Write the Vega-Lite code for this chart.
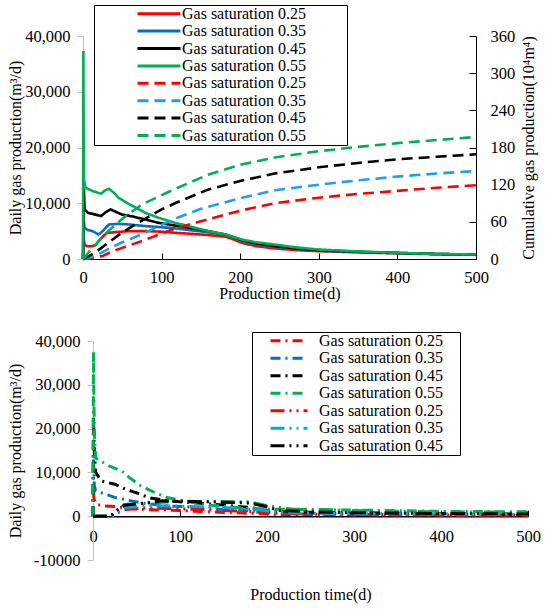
{
  "$schema": "https://vega.github.io/schema/vega-lite/v6.json",
  "padding": {"left": 6, "top": 4, "right": 5, "bottom": 2},
  "config": {
    "view": {"stroke": null},
    "font": "Liberation Serif",
    "axis": {"labelFont": "Liberation Serif", "titleFont": "Liberation Serif", "labelFontSize": 16.5, "titleFontSize": 16, "titleFontWeight": "normal", "labelColor": "#000", "titleColor": "#000", "grid": false, "labelFlush": false},
    "legend": {"labelFont": "Liberation Serif", "labelFontSize": 16, "labelColor": "#000", "labelLimit": 400}
  },
  "datasets": {
    "daily": [
      {"s":"A0.25","t":0,"v":0},{"s":"A0.25","t":1,"v":3500},{"s":"A0.25","t":2,"v":2600},{"s":"A0.25","t":5,"v":2300},{"s":"A0.25","t":12,"v":2300},{"s":"A0.25","t":16,"v":2500},{"s":"A0.25","t":20,"v":3200},{"s":"A0.25","t":25,"v":4000},{"s":"A0.25","t":31,"v":4700},{"s":"A0.25","t":40,"v":4800},{"s":"A0.25","t":58,"v":5000},{"s":"A0.25","t":80,"v":5000},{"s":"A0.25","t":100,"v":4900},{"s":"A0.25","t":117,"v":4700},{"s":"A0.25","t":140,"v":4500},{"s":"A0.25","t":159,"v":4300},{"s":"A0.25","t":181,"v":4000},{"s":"A0.25","t":190,"v":3600},{"s":"A0.25","t":202,"v":2900},{"s":"A0.25","t":220,"v":2300},{"s":"A0.25","t":244,"v":1900},{"s":"A0.25","t":270,"v":1600},{"s":"A0.25","t":300,"v":1400},{"s":"A0.25","t":350,"v":1200},{"s":"A0.25","t":400,"v":1000},{"s":"A0.25","t":450,"v":850},{"s":"A0.25","t":500,"v":750},
      {"s":"B0.35","t":0,"v":0},{"s":"B0.35","t":1,"v":6800},{"s":"B0.35","t":2,"v":5600},{"s":"B0.35","t":6,"v":5200},{"s":"B0.35","t":12,"v":5000},{"s":"B0.35","t":20,"v":4400},{"s":"B0.35","t":25,"v":5000},{"s":"B0.35","t":33,"v":6200},{"s":"B0.35","t":45,"v":6300},{"s":"B0.35","t":58,"v":6200},{"s":"B0.35","t":80,"v":5900},{"s":"B0.35","t":100,"v":5700},{"s":"B0.35","t":117,"v":5500},{"s":"B0.35","t":140,"v":5100},{"s":"B0.35","t":159,"v":4800},{"s":"B0.35","t":181,"v":4300},{"s":"B0.35","t":190,"v":3900},{"s":"B0.35","t":202,"v":3200},{"s":"B0.35","t":220,"v":2600},{"s":"B0.35","t":244,"v":2150},{"s":"B0.35","t":270,"v":1800},{"s":"B0.35","t":300,"v":1500},{"s":"B0.35","t":350,"v":1250},{"s":"B0.35","t":400,"v":1050},{"s":"B0.35","t":450,"v":900},{"s":"B0.35","t":500,"v":780},
      {"s":"C0.45","t":0,"v":0},{"s":"C0.45","t":1,"v":13100},{"s":"C0.45","t":2,"v":8900},{"s":"C0.45","t":6,"v":8300},{"s":"C0.45","t":12,"v":8100},{"s":"C0.45","t":23,"v":7700},{"s":"C0.45","t":29,"v":8400},{"s":"C0.45","t":35,"v":8900},{"s":"C0.45","t":49,"v":8000},{"s":"C0.45","t":64,"v":7600},{"s":"C0.45","t":79,"v":7100},{"s":"C0.45","t":96,"v":6500},{"s":"C0.45","t":117,"v":6000},{"s":"C0.45","t":140,"v":5500},{"s":"C0.45","t":159,"v":5000},{"s":"C0.45","t":181,"v":4400},{"s":"C0.45","t":190,"v":4000},{"s":"C0.45","t":202,"v":3400},{"s":"C0.45","t":220,"v":2800},{"s":"C0.45","t":244,"v":2300},{"s":"C0.45","t":270,"v":1900},{"s":"C0.45","t":300,"v":1600},{"s":"C0.45","t":350,"v":1300},{"s":"C0.45","t":400,"v":1100},{"s":"C0.45","t":450,"v":900},{"s":"C0.45","t":500,"v":800},
      {"s":"D0.55","t":0,"v":0},{"s":"D0.55","t":0.5,"v":37300},{"s":"D0.55","t":1,"v":14600},{"s":"D0.55","t":3,"v":12800},{"s":"D0.55","t":12,"v":12200},{"s":"D0.55","t":23,"v":11700},{"s":"D0.55","t":28,"v":12300},{"s":"D0.55","t":33,"v":12600},{"s":"D0.55","t":40,"v":11800},{"s":"D0.55","t":45,"v":11000},{"s":"D0.55","t":58,"v":9900},{"s":"D0.55","t":79,"v":8300},{"s":"D0.55","t":96,"v":7400},{"s":"D0.55","t":117,"v":6500},{"s":"D0.55","t":140,"v":5700},{"s":"D0.55","t":159,"v":5000},{"s":"D0.55","t":181,"v":4400},{"s":"D0.55","t":190,"v":4000},{"s":"D0.55","t":202,"v":3500},{"s":"D0.55","t":220,"v":3000},{"s":"D0.55","t":244,"v":2600},{"s":"D0.55","t":270,"v":2100},{"s":"D0.55","t":300,"v":1700},{"s":"D0.55","t":350,"v":1350},{"s":"D0.55","t":400,"v":1100},{"s":"D0.55","t":450,"v":900},{"s":"D0.55","t":500,"v":800}
    ],
    "cum": [
      {"s":"E0.25","t":0,"v":0},{"s":"E0.25","t":5,"v":0.5},{"s":"E0.25","t":15,"v":2},{"s":"E0.25","t":25,"v":5},{"s":"E0.25","t":35,"v":11},{"s":"E0.25","t":50,"v":18},{"s":"E0.25","t":75,"v":29},{"s":"E0.25","t":100,"v":41},{"s":"E0.25","t":117,"v":49},{"s":"E0.25","t":150,"v":61},{"s":"E0.25","t":200,"v":78},{"s":"E0.25","t":244,"v":90},{"s":"E0.25","t":300,"v":99},{"s":"E0.25","t":350,"v":105},{"s":"E0.25","t":400,"v":110},{"s":"E0.25","t":450,"v":115},{"s":"E0.25","t":500,"v":119},
      {"s":"F0.35","t":0,"v":0},{"s":"F0.35","t":5,"v":1},{"s":"F0.35","t":10,"v":3},{"s":"F0.35","t":20,"v":8},{"s":"F0.35","t":32,"v":16},{"s":"F0.35","t":50,"v":27},{"s":"F0.35","t":75,"v":40},{"s":"F0.35","t":100,"v":55},{"s":"F0.35","t":117,"v":65},{"s":"F0.35","t":150,"v":81},{"s":"F0.35","t":200,"v":98},{"s":"F0.35","t":244,"v":111},{"s":"F0.35","t":300,"v":120},{"s":"F0.35","t":350,"v":127},{"s":"F0.35","t":400,"v":133},{"s":"F0.35","t":450,"v":138},{"s":"F0.35","t":500,"v":142},
      {"s":"G0.45","t":0,"v":0},{"s":"G0.45","t":5,"v":3},{"s":"G0.45","t":15,"v":10},{"s":"G0.45","t":32,"v":26},{"s":"G0.45","t":50,"v":43},{"s":"G0.45","t":75,"v":62},{"s":"G0.45","t":100,"v":80},{"s":"G0.45","t":117,"v":90},{"s":"G0.45","t":159,"v":112},{"s":"G0.45","t":200,"v":126},{"s":"G0.45","t":244,"v":138},{"s":"G0.45","t":300,"v":148},{"s":"G0.45","t":350,"v":155},{"s":"G0.45","t":400,"v":161},{"s":"G0.45","t":450,"v":165},{"s":"G0.45","t":500,"v":169},
      {"s":"H0.55","t":0,"v":0},{"s":"H0.55","t":3,"v":4},{"s":"H0.55","t":8,"v":12},{"s":"H0.55","t":15,"v":22},{"s":"H0.55","t":32,"v":45},{"s":"H0.55","t":53,"v":68},{"s":"H0.55","t":75,"v":88},{"s":"H0.55","t":100,"v":103},{"s":"H0.55","t":117,"v":113},{"s":"H0.55","t":159,"v":136},{"s":"H0.55","t":200,"v":152},{"s":"H0.55","t":244,"v":164},{"s":"H0.55","t":300,"v":174},{"s":"H0.55","t":350,"v":181},{"s":"H0.55","t":400,"v":187},{"s":"H0.55","t":450,"v":192},{"s":"H0.55","t":500,"v":197}
    ],
    "bot": [
      {"s":"A0.25","t":0,"v":0},{"s":"A0.25","t":0.5,"v":7800},{"s":"A0.25","t":1,"v":4200},{"s":"A0.25","t":3,"v":2800},{"s":"A0.25","t":10,"v":2400},{"s":"A0.25","t":25,"v":2200},{"s":"A0.25","t":40,"v":1800},{"s":"A0.25","t":60,"v":1500},{"s":"A0.25","t":87,"v":1400},{"s":"A0.25","t":110,"v":1200},{"s":"A0.25","t":132,"v":1000},{"s":"A0.25","t":160,"v":800},{"s":"A0.25","t":194,"v":600},{"s":"A0.25","t":210,"v":400},{"s":"A0.25","t":250,"v":350},{"s":"A0.25","t":300,"v":300},{"s":"A0.25","t":400,"v":250},{"s":"A0.25","t":500,"v":200},
      {"s":"B0.35","t":0,"v":0},{"s":"B0.35","t":0.5,"v":14000},{"s":"B0.35","t":1.5,"v":7000},{"s":"B0.35","t":3,"v":5800},{"s":"B0.35","t":10,"v":5300},{"s":"B0.35","t":25,"v":4300},{"s":"B0.35","t":44,"v":3500},{"s":"B0.35","t":60,"v":2900},{"s":"B0.35","t":90,"v":2300},{"s":"B0.35","t":105,"v":2200},{"s":"B0.35","t":130,"v":1800},{"s":"B0.35","t":160,"v":1400},{"s":"B0.35","t":190,"v":1100},{"s":"B0.35","t":210,"v":800},{"s":"B0.35","t":250,"v":700},{"s":"B0.35","t":300,"v":600},{"s":"B0.35","t":400,"v":500},{"s":"B0.35","t":500,"v":400},
      {"s":"C0.45","t":0,"v":0},{"s":"C0.45","t":0.5,"v":23000},{"s":"C0.45","t":1.5,"v":15000},{"s":"C0.45","t":3,"v":10000},{"s":"C0.45","t":10,"v":8000},{"s":"C0.45","t":25,"v":7300},{"s":"C0.45","t":38,"v":6100},{"s":"C0.45","t":52,"v":5200},{"s":"C0.45","t":65,"v":4200},{"s":"C0.45","t":80,"v":3700},{"s":"C0.45","t":100,"v":3300},{"s":"C0.45","t":140,"v":2700},{"s":"C0.45","t":180,"v":2000},{"s":"C0.45","t":200,"v":1300},{"s":"C0.45","t":250,"v":900},{"s":"C0.45","t":300,"v":800},{"s":"C0.45","t":400,"v":600},{"s":"C0.45","t":500,"v":500},
      {"s":"D0.55","t":0,"v":0},{"s":"D0.55","t":0.5,"v":37600},{"s":"D0.55","t":1.5,"v":20000},{"s":"D0.55","t":3,"v":13300},{"s":"D0.55","t":17,"v":11600},{"s":"D0.55","t":33,"v":10300},{"s":"D0.55","t":42,"v":8800},{"s":"D0.55","t":55,"v":6900},{"s":"D0.55","t":71,"v":5400},{"s":"D0.55","t":86,"v":4200},{"s":"D0.55","t":105,"v":3500},{"s":"D0.55","t":129,"v":2600},{"s":"D0.55","t":178,"v":1800},{"s":"D0.55","t":209,"v":1600},{"s":"D0.55","t":250,"v":1500},{"s":"D0.55","t":300,"v":1400},{"s":"D0.55","t":400,"v":1100},{"s":"D0.55","t":500,"v":1000},
      {"s":"E0.25","t":0,"v":0},{"s":"E0.25","t":22,"v":0},{"s":"E0.25","t":30,"v":900},{"s":"E0.25","t":38,"v":1500},{"s":"E0.25","t":60,"v":1900},{"s":"E0.25","t":100,"v":1700},{"s":"E0.25","t":140,"v":1400},{"s":"E0.25","t":180,"v":1100},{"s":"E0.25","t":200,"v":800},{"s":"E0.25","t":230,"v":500},{"s":"E0.25","t":300,"v":400},{"s":"E0.25","t":400,"v":300},{"s":"E0.25","t":500,"v":250},
      {"s":"F0.35","t":0,"v":0},{"s":"F0.35","t":22,"v":0},{"s":"F0.35","t":30,"v":1200},{"s":"F0.35","t":38,"v":2000},{"s":"F0.35","t":60,"v":2400},{"s":"F0.35","t":100,"v":2300},{"s":"F0.35","t":150,"v":2000},{"s":"F0.35","t":190,"v":1500},{"s":"F0.35","t":210,"v":900},{"s":"F0.35","t":250,"v":700},{"s":"F0.35","t":300,"v":600},{"s":"F0.35","t":400,"v":500},{"s":"F0.35","t":500,"v":400},
      {"s":"G0.45","t":0,"v":0},{"s":"G0.45","t":20,"v":0},{"s":"G0.45","t":28,"v":1500},{"s":"G0.45","t":36,"v":2500},{"s":"G0.45","t":60,"v":3000},{"s":"G0.45","t":80,"v":3500},{"s":"G0.45","t":130,"v":3300},{"s":"G0.45","t":180,"v":3000},{"s":"G0.45","t":195,"v":2400},{"s":"G0.45","t":215,"v":1300},{"s":"G0.45","t":250,"v":1000},{"s":"G0.45","t":300,"v":800},{"s":"G0.45","t":400,"v":600},{"s":"G0.45","t":500,"v":500}
    ],
    "hid": [
      {"s":"H0.55","t":0,"v":0},{"s":"H0.55","t":20,"v":0},{"s":"H0.55","t":30,"v":1500},{"s":"H0.55","t":36,"v":2700},{"s":"H0.55","t":60,"v":3000},{"s":"H0.55","t":100,"v":3400},{"s":"H0.55","t":180,"v":3300},{"s":"H0.55","t":200,"v":2400},{"s":"H0.55","t":230,"v":1600},{"s":"H0.55","t":270,"v":1500},{"s":"H0.55","t":300,"v":1300},{"s":"H0.55","t":400,"v":1000},{"s":"H0.55","t":500,"v":900}
    ],
    "none": []
  },
  "spacing": 29,
  "vconcat": [
    {
      "spacing": 0,
      "hconcat": [
        {"width": 1, "height": 1, "data": {"name": "none"}, "mark": "point"},
        {
          "width": 393,
          "height": 223,
          "layer": [
            {
              "data": {"name": "daily"},
              "mark": {"type": "line", "strokeWidth": 2.6},
              "encoding": {
                "x": {"field": "t", "type": "quantitative", "scale": {"domain": [0, 500], "nice": false},
                  "axis": {"values": [0, 100, 200, 300, 400, 500], "title": "Production time(d)", "domainColor": "#000", "tickColor": "#000", "tickSize": -6, "labelPadding": 16, "titlePadding": 0}},
                "y": {"field": "v", "type": "quantitative", "scale": {"domain": [0, 40000], "nice": false},
                  "axis": {"values": [0, 10000, 20000, 30000, 40000], "labelExpr": "format(datum.value, ',')", "title": "Daily gas production(m³/d)", "domainColor": "#BFBFBF", "tickColor": "#BFBFBF", "tickSize": 6, "labelPadding": 7, "titlePadding": 1}},
                "color": {"field": "s", "type": "nominal",
                  "scale": {"domain": ["A0.25","B0.35","C0.45","D0.55","E0.25","F0.35","G0.45","H0.55"], "range": ["#FF0000","#0070C0","#000000","#00B050","#FF0000","#1E9FE8","#000000","#00B050"]},
                  "legend": {"title": null, "orient": "none", "legendX": 88, "legendY": -31, "symbolType": "stroke", "symbolSize": 1849, "symbolStrokeWidth": 3, "clipHeight": 15.4, "rowPadding": 0.4, "padding": 1, "symbolOffset": 41, "labelOffset": 0, "fillColor": "#ffffff", "strokeColor": "#000000", "labelExpr": "'Gas saturation ' + substring(datum.label, 1) + '\u00a0\u00a0\u00a0\u00a0\u00a0\u00a0\u00a0\u00a0\u00a0\u00a0\u200b'"}},
                "strokeDash": {"field": "s", "type": "nominal",
                  "scale": {"domain": ["A0.25","B0.35","C0.45","D0.55","E0.25","F0.35","G0.45","H0.55"], "range": [[1,0],[1,0],[1,0],[1,0],[11,6],[11,6],[11,6],[11,6]]},
                  "legend": {"title": null, "orient": "none", "legendX": 88, "legendY": -31, "symbolType": "stroke", "symbolSize": 1849, "symbolStrokeWidth": 3, "clipHeight": 15.4, "rowPadding": 0.4, "padding": 1, "symbolOffset": 41, "labelOffset": 0, "fillColor": "#ffffff", "strokeColor": "#000000", "labelExpr": "'Gas saturation ' + substring(datum.label, 1) + '\u00a0\u00a0\u00a0\u00a0\u00a0\u00a0\u00a0\u00a0\u00a0\u00a0\u200b'"}}
              }
            },
            {
              "data": {"name": "cum"},
              "mark": {"type": "line", "strokeWidth": 2.6},
              "encoding": {
                "x": {"field": "t", "type": "quantitative"},
                "y": {"field": "v", "type": "quantitative", "scale": {"domain": [0, 360], "nice": false},
                  "axis": {"orient": "right", "values": [0, 60, 120, 180, 240, 300, 360], "title": "Cumulative gas production(10⁴m⁴)", "titleAngle": 270, "titleBaseline": "top", "domainColor": "#000", "tickColor": "#000", "tickSize": -7, "labelPadding": 21, "titlePadding": 6}},
                "color": {"field": "s", "type": "nominal"},
                "strokeDash": {"field": "s", "type": "nominal"}
              }
            }
          ],
          "resolve": {"scale": {"y": "independent"}, "axis": {"y": "independent"}}
        }
      ]
    },
    {
      "spacing": 0,
      "hconcat": [
        {"width": 1, "height": 1, "data": {"name": "none"}, "mark": "point"},
        {
          "width": 435,
          "height": 219,
          "layer": [
            {
              "data": {"name": "hid"},
              "mark": {"type": "line", "strokeWidth": 3, "color": "#00B050", "strokeDash": [14,5,2,5,2,5]},
              "encoding": {
                "x": {"field": "t", "type": "quantitative", "scale": {"domain": [0, 500], "nice": false},
                  "axis": {"values": [0, 100, 200, 300, 400, 500], "title": "Production time(d)", "offset": -43.8, "domainColor": "#000", "domainWidth": 1.5, "tickColor": "#000", "tickSize": -6, "labelPadding": 18, "titlePadding": 42}},
                "y": {"field": "v", "type": "quantitative", "scale": {"domain": [-10000, 40000], "nice": false},
                  "axis": {"values": [-10000, 0, 10000, 20000, 30000, 40000], "labelExpr": "datum.value < 0 ? '-10000' : format(datum.value, ',')", "title": "Daily gas production(m³/d)", "domainColor": "#BFBFBF", "tickColor": "#BFBFBF", "tickSize": 6, "labelPadding": 7, "titlePadding": 10}}
              }
            },
            {
              "data": {"name": "bot"},
              "mark": {"type": "line", "strokeWidth": 3},
              "encoding": {
                "x": {"field": "t", "type": "quantitative"},
                "y": {"field": "v", "type": "quantitative"},
                "color": {"field": "s", "type": "nominal",
                  "scale": {"domain": ["A0.25","B0.35","C0.45","D0.55","E0.25","F0.35","G0.45"], "range": ["#FF0000","#0070C0","#000000","#00B050","#FF0000","#00A8F0","#000000"]},
                  "legend": {"title": null, "orient": "none", "legendX": 159, "legendY": -9, "symbolType": "stroke", "symbolSize": 1369, "symbolStrokeWidth": 3, "clipHeight": 15.5, "rowPadding": 0.5, "padding": 1, "symbolOffset": 16, "labelOffset": 10, "fillColor": "#ffffff", "strokeColor": "#000000", "labelExpr": "'Gas saturation ' + substring(datum.label, 1) + '\u00a0\u00a0\u00a0\u00a0\u200b'"}},
                "strokeDash": {"field": "s", "type": "nominal",
                  "scale": {"domain": ["A0.25","B0.35","C0.45","D0.55","E0.25","F0.35","G0.45"], "range": [[10,5,2,5],[10,5,2,5],[10,5,2,5],[10,5,2,5],[14,5,2,5,2,5],[14,5,2,5,2,5],[14,5,2,5,2,5]]},
                  "legend": {"title": null, "orient": "none", "legendX": 159, "legendY": -9, "symbolType": "stroke", "symbolSize": 1369, "symbolStrokeWidth": 3, "clipHeight": 15.5, "rowPadding": 0.5, "padding": 1, "symbolOffset": 16, "labelOffset": 10, "fillColor": "#ffffff", "strokeColor": "#000000", "labelExpr": "'Gas saturation ' + substring(datum.label, 1) + '\u00a0\u00a0\u00a0\u00a0\u200b'"}}
              }
            }
          ],
          "resolve": {"scale": {"color": "independent", "strokeDash": "independent"}}
        }
      ]
    }
  ]
}
